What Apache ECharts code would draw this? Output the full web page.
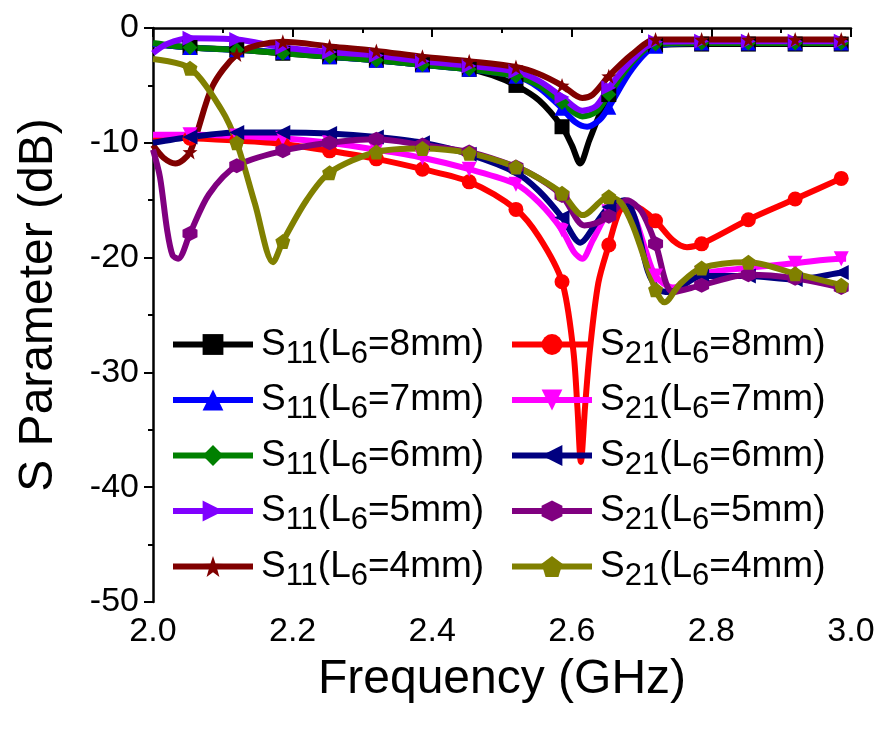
<!DOCTYPE html>
<html>
<head>
<meta charset="utf-8">
<title>S Parameter</title>
<script src="https://cdn.jsdelivr.net/npm/echarts@6/dist/echarts.min.js"></script>
<style>
  html, body { margin: 0; padding: 0; background: #fff; }
  #chart { width: 880px; height: 731px; }
</style>
</head>
<body>
<div id="chart"></div>
<script>
// frequencies (GHz) where Origin drew the markers
const markerFreqs = [2.053, 2.12, 2.186, 2.253, 2.32, 2.386, 2.453, 2.52, 2.586, 2.653, 2.72, 2.786, 2.853, 2.92, 2.986];

// S11, [freq, dB]
const s11L8 = [[2.0,-1.4],[2.053,-1.7],[2.12,-1.9],[2.186,-2.2],[2.253,-2.5],[2.32,-2.8],[2.386,-3.2],[2.453,-3.6],[2.486,-4.1],[2.52,-5.0],[2.553,-6.3],[2.586,-8.6],[2.6,-10.2],[2.612,-11.8],[2.625,-9.8],[2.64,-7.5],[2.653,-5.8],[2.686,-3.0],[2.72,-1.5],[2.786,-1.4],[2.853,-1.4],[2.92,-1.4],[2.986,-1.4],[2.993,-1.4]];
const s11L7 = [[2.0,-1.4],[2.053,-1.7],[2.12,-1.9],[2.186,-2.1],[2.253,-2.5],[2.32,-2.8],[2.386,-3.2],[2.453,-3.6],[2.52,-4.2],[2.553,-5.2],[2.586,-7.0],[2.605,-8.2],[2.622,-8.6],[2.64,-8.0],[2.653,-6.9],[2.686,-3.6],[2.72,-1.6],[2.786,-1.3],[2.853,-1.3],[2.92,-1.3],[2.986,-1.3],[2.993,-1.3]];
const s11L6 = [[2.0,-1.3],[2.053,-1.7],[2.12,-1.9],[2.186,-2.2],[2.253,-2.5],[2.32,-2.8],[2.386,-3.2],[2.453,-3.6],[2.52,-4.2],[2.553,-5.0],[2.586,-6.5],[2.615,-7.7],[2.635,-7.3],[2.653,-5.8],[2.686,-3.0],[2.72,-1.4],[2.786,-1.3],[2.853,-1.3],[2.92,-1.3],[2.986,-1.3],[2.993,-1.3]];
const s11L5 = [[2.0,-2.2],[2.02,-1.4],[2.053,-0.9],[2.12,-1.0],[2.186,-1.7],[2.253,-2.1],[2.32,-2.4],[2.386,-2.9],[2.453,-3.3],[2.52,-3.8],[2.553,-4.6],[2.586,-6.0],[2.615,-7.2],[2.635,-6.8],[2.653,-5.2],[2.686,-2.8],[2.72,-1.2],[2.786,-1.15],[2.853,-1.15],[2.92,-1.15],[2.986,-1.15],[2.993,-1.15]];
const s11L4 = [[2.0,-10.2],[2.015,-11.3],[2.032,-11.8],[2.053,-10.8],[2.085,-5.1],[2.12,-2.3],[2.15,-1.5],[2.186,-1.2],[2.253,-1.6],[2.32,-2.0],[2.386,-2.5],[2.453,-2.9],[2.52,-3.4],[2.553,-4.0],[2.586,-5.0],[2.615,-6.1],[2.63,-5.8],[2.653,-4.2],[2.686,-2.3],[2.72,-1.0],[2.786,-1.0],[2.853,-1.0],[2.92,-1.0],[2.986,-1.0],[2.993,-1.0]];

// S21, [freq, dB]
const s21L8 = [[2.0,-9.5],[2.053,-9.6],[2.12,-9.8],[2.186,-10.1],[2.253,-10.7],[2.32,-11.4],[2.386,-12.3],[2.453,-13.4],[2.52,-15.8],[2.553,-18.2],[2.586,-22.1],[2.602,-28.0],[2.608,-33.0],[2.613,-37.8],[2.619,-33.0],[2.626,-28.0],[2.638,-22.2],[2.653,-18.9],[2.668,-16.0],[2.682,-15.3],[2.7,-15.8],[2.72,-16.8],[2.745,-18.5],[2.765,-19.1],[2.786,-18.8],[2.853,-16.7],[2.92,-14.9],[2.986,-13.1],[2.993,-12.9]];
const s21L7 = [[2.0,-9.3],[2.053,-9.3],[2.12,-9.4],[2.186,-9.6],[2.253,-10.0],[2.32,-10.6],[2.386,-11.3],[2.453,-12.3],[2.52,-13.6],[2.553,-15.2],[2.586,-17.6],[2.603,-19.5],[2.615,-20.1],[2.63,-18.5],[2.653,-16.0],[2.675,-15.2],[2.69,-16.5],[2.705,-19.2],[2.72,-21.6],[2.745,-22.6],[2.786,-21.4],[2.853,-20.9],[2.92,-20.5],[2.986,-20.1],[2.993,-20.1]];
const s21L6 = [[2.0,-10.0],[2.053,-9.5],[2.12,-9.1],[2.186,-9.1],[2.253,-9.2],[2.32,-9.5],[2.386,-10.0],[2.453,-11.0],[2.52,-12.6],[2.553,-14.2],[2.586,-16.5],[2.612,-18.7],[2.635,-17.0],[2.653,-15.6],[2.675,-15.0],[2.69,-16.5],[2.709,-21.2],[2.725,-22.8],[2.74,-23.0],[2.786,-21.6],[2.853,-21.6],[2.92,-21.9],[2.986,-21.3],[2.993,-21.2]];
const s21L5 = [[2.0,-10.6],[2.01,-13.0],[2.02,-17.5],[2.028,-19.8],[2.036,-20.1],[2.053,-17.9],[2.08,-14.5],[2.12,-12.0],[2.186,-10.7],[2.253,-10.0],[2.32,-9.7],[2.386,-10.2],[2.453,-10.8],[2.52,-12.1],[2.553,-13.1],[2.586,-14.6],[2.618,-17.2],[2.635,-17.0],[2.653,-16.4],[2.679,-15.0],[2.7,-16.0],[2.72,-18.8],[2.745,-23.0],[2.786,-22.4],[2.853,-21.5],[2.92,-21.8],[2.986,-22.6],[2.993,-22.7]];
const s21L4 = [[2.0,-2.7],[2.053,-3.5],[2.098,-7.1],[2.12,-10.0],[2.146,-15.3],[2.172,-20.4],[2.186,-18.6],[2.22,-15.0],[2.253,-12.6],[2.32,-10.8],[2.386,-10.5],[2.453,-10.9],[2.52,-12.1],[2.553,-13.1],[2.586,-14.4],[2.616,-16.3],[2.653,-14.7],[2.67,-15.2],[2.688,-17.3],[2.72,-22.8],[2.733,-23.9],[2.755,-22.3],[2.786,-20.9],[2.853,-20.4],[2.92,-21.4],[2.986,-22.4],[2.993,-22.5]];

const xTicks = [2.0, 2.2, 2.4, 2.6, 2.8, 3.0];

// Origin symbol shapes
const SYM = {
    star: 'path://M0,-10L2.35,-3.24L9.51,-3.09L3.8,1.24L5.88,8.09L0,4L-5.88,8.09L-3.8,1.24L-9.51,-3.09L-2.35,-3.24Z',
    right: 'path://M0,0L10,5L0,10Z',
    left: 'path://M10,0L0,5L10,10Z',
    down: 'path://M0,0L10,0L5,10Z',
    hexagon: 'path://M5,0L9.33,2.5L9.33,7.5L5,10L0.67,7.5L0.67,2.5Z',
    pentagon: 'path://M5,0L10,3.7L8.1,10L1.9,10L0,3.7Z'
};

const curves = [
    { name: 'S11(L6=8mm)', data: s11L8, color: '#000000', symbol: 'rect' },
    { name: 'S11(L6=7mm)', data: s11L7, color: '#0000ff', symbol: 'triangle' },
    { name: 'S11(L6=6mm)', data: s11L6, color: '#008000', symbol: 'diamond' },
    { name: 'S11(L6=5mm)', data: s11L5, color: '#8000ff', symbol: SYM.right },
    { name: 'S11(L6=4mm)', data: s11L4, color: '#800000', symbol: SYM.star },
    { name: 'S21(L6=8mm)', data: s21L8, color: '#ff0000', symbol: 'circle' },
    { name: 'S21(L6=7mm)', data: s21L7, color: '#ff00ff', symbol: SYM.down },
    { name: 'S21(L6=6mm)', data: s21L6, color: '#000080', symbol: SYM.left },
    { name: 'S21(L6=5mm)', data: s21L5, color: '#800080', symbol: SYM.hexagon },
    { name: 'S21(L6=4mm)', data: s21L4, color: '#808000', symbol: SYM.pentagon }
];

const isMarker = f => markerFreqs.some(m => Math.abs(m - f) < 1e-4);

const FONT = "'Liberation Sans', Arial, sans-serif";

// S11(L6=8mm) -> S with subscripts
const legendFmt = name => name.replace(/^S(\d+)\(L6=(\d)mm\)$/, '{g| }{m|S}{s|$1}{m|(L}{s|6}{m|=$2mm)}');
const legendRich = {
    g: { width: 3 },
    m: { fontSize: 37, lineHeight: 50, fontFamily: FONT, color: '#000' },
    s: { fontSize: 31, lineHeight: 20, verticalAlign: 'bottom', fontFamily: FONT, color: '#000' }
};
const legendBase = {
    orient: 'vertical',
    top: 326,
    padding: 0,
    itemGap: 12,
    itemWidth: 80,
    itemHeight: 26,
    selectedMode: false,
    formatter: legendFmt,
    lineStyle: { width: 6 },
    textStyle: { rich: legendRich }
};

const myChart = echarts.init(document.getElementById('chart'), null, { renderer: 'canvas' });

myChart.setOption({
    animation: false,
    backgroundColor: '#ffffff',
    grid: { left: 153, right: 29, top: 28, bottom: 129 },
    legend: [
        Object.assign({}, legendBase, { left: 170, data: curves.slice(0, 5).map(c => c.name) }),
        Object.assign({}, legendBase, { left: 509, data: curves.slice(5).map(c => c.name) })
    ],
    xAxis: {
        type: 'value',
        min: 2.0,
        max: 3.0,
        interval: 0.2,
        name: 'Frequency (GHz)',
        nameLocation: 'middle',
        nameGap: 54,
        nameTextStyle: { fontSize: 48, fontFamily: FONT, color: '#000' },
        axisLine: { show: true, lineStyle: { color: '#000', width: 2.5 } },
        axisTick: { show: true, inside: false, length: 9, lineStyle: { color: '#000', width: 2 } },
        minorTick: { show: true, splitNumber: 2, length: 5, lineStyle: { color: '#000', width: 2 } },
        axisLabel: {
            margin: 13,
            fontSize: 34,
            fontFamily: FONT,
            color: '#000',
            customValues: xTicks,
            formatter: v => v.toFixed(1)
        },
        splitLine: { show: false }
    },
    yAxis: {
        type: 'value',
        min: -50,
        max: 0,
        interval: 10,
        name: 'S Parameter (dB)',
        nameLocation: 'middle',
        nameGap: 90,
        nameTextStyle: { fontSize: 48, fontFamily: FONT, color: '#000', padding: [0, 0, 0, 20] },
        axisLine: { show: true, lineStyle: { color: '#000', width: 2.5 } },
        axisTick: { show: true, inside: false, length: 9, lineStyle: { color: '#000', width: 2 } },
        minorTick: { show: true, splitNumber: 2, length: 5, lineStyle: { color: '#000', width: 2 } },
        axisLabel: { margin: 14, fontSize: 34, fontFamily: FONT, color: '#000' },
        splitLine: { show: false }
    },
    series: curves.map(c => ({
        name: c.name,
        type: 'line',
        data: c.data,
        smooth: 0.3,
        symbol: c.symbol,
        showAllSymbol: true,
        symbolSize: v => (isMarker(v[0]) ? 15 : 0),
        color: c.color,
        itemStyle: { color: c.color },
        lineStyle: { color: c.color, width: 6 },
        emphasis: { disabled: true }
    }))
});
</script>
</body>
</html>
